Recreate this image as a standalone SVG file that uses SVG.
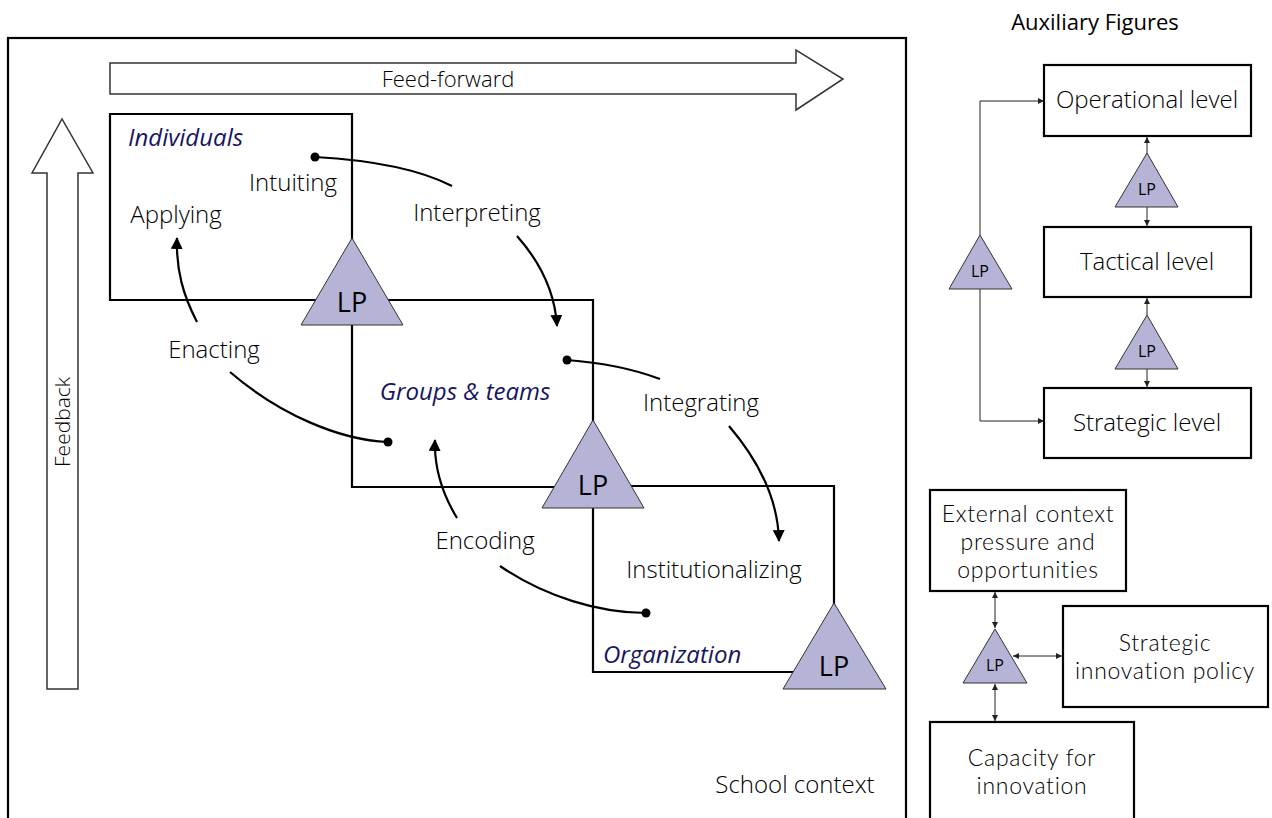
<svg xmlns="http://www.w3.org/2000/svg" width="1272" height="818" viewBox="0 0 1272 818">
<defs>
<marker id="ah" markerUnits="userSpaceOnUse" markerWidth="12" markerHeight="12" viewBox="0 0 12 12" refX="11" refY="6" orient="auto"><path d="M0,0 L12,6 L0,12 z" fill="#000"/></marker>
<marker id="sa" markerUnits="userSpaceOnUse" markerWidth="6" markerHeight="6" viewBox="0 0 6 6" refX="6" refY="3" orient="auto-start-reverse"><path d="M0,0 L6,3 L0,6 z" fill="#222"/></marker>
<style>
text{font-family:"Open Sans","Noto Sans","Liberation Sans",sans-serif;fill:#000;font-weight:350;}
.lbl{font-size:24px;text-anchor:middle;}
.ml{font-family:Lato,"Open Sans",sans-serif;font-size:23px;font-weight:300;text-anchor:middle;letter-spacing:0.7px;}
.it{font-size:24px;font-style:italic;fill:#161660;font-weight:400;}
.box{fill:#fff;stroke:#000;stroke-width:2.2;}
.big{fill:none;stroke:#000;stroke-width:2.2;}
.tri{fill:#b6b4d6;stroke:#333;stroke-width:1;}
.lp{font-size:27px;text-anchor:middle;font-weight:400;}
.lps{font-size:16px;text-anchor:middle;font-weight:400;}
.flow{fill:none;stroke:#000;stroke-width:2.2;}
.thin{fill:none;stroke:#222;stroke-width:1;}
.hollow{fill:#fff;stroke:#333;stroke-width:1.5;}
</style>
</defs>
<g id="school-context">
<rect x="8" y="38" width="898" height="800" class="big"/>
<text x="795" y="793" class="lbl">School context</text>
</g>
<g id="feed-forward">
<path d="M110,63 L796,63 L796,50 L843,79 L796,110 L796,94 L110,94 Z" class="hollow"/>
<text x="448" y="87" class="lbl" style="font-size:22px">Feed-forward</text>
</g>
<g id="feedback">
<path d="M47,689 L47,173 L32,173 L62,119 L93,173 L78,173 L78,689 Z" class="hollow"/>
<text transform="translate(70,422) rotate(-90)" class="lbl" style="font-size:21px">Feedback</text>
</g>
<g id="levels">
<path d="M110,114 L352,114 L352,300 L593,300 L593,486 L834,486 L834,672 L593,672 L593,487 L352,487 L352,300 L110,300 Z" class="big"/>
</g>
<g id="individuals">
<text x="128" y="146" class="it">Individuals</text>
<text x="293" y="191" class="lbl">Intuiting</text>
<text x="176" y="223" class="lbl">Applying</text>
</g>
<g id="groups-teams">
<text x="465" y="400" class="it" text-anchor="middle">Groups &amp; teams</text>
</g>
<g id="organization">
<text x="603" y="663" class="it">Organization</text>
<text x="714" y="578" class="lbl">Institutionalizing</text>
</g>
<g id="lp1"><path d="M352,238 L403,325 L301,325 Z" class="tri"/><text x="352" y="312" class="lp">LP</text></g>
<g id="lp2"><path d="M593,420 L644,508 L542,508 Z" class="tri"/><text x="593" y="495" class="lp">LP</text></g>
<g id="lp3"><path d="M834,603 L886,689 L783,689 Z" class="tri"/><text x="834" y="676" class="lp">LP</text></g>
<g id="connectors">
<path d="M315,157 Q405,162 452,186" class="flow"/>
<circle cx="315" cy="157" r="4.5"/>
<path d="M517,236 C540,262 555,292 557,326" class="flow" marker-end="url(#ah)"/>
<path d="M567,360 Q620,364 660,379" class="flow"/>
<circle cx="567" cy="360" r="4.5"/>
<path d="M729,426 C758,460 778,500 779,541" class="flow" marker-end="url(#ah)"/>
<path d="M457,518 C443,495 434,470 435,440" class="flow" marker-end="url(#ah)"/>
<path d="M500,566 C545,597 600,613 646,613" class="flow"/>
<circle cx="646" cy="613" r="4.5"/>
<path d="M230,372 C280,415 340,440 388,442" class="flow"/>
<circle cx="388" cy="442" r="4.5"/>
<path d="M197,322 C183,295 176,270 177,238" class="flow" marker-end="url(#ah)"/>
<path d="M980,235 L980,101 L1044,101" class="thin" marker-end="url(#sa)"/>
<path d="M980,289 L980,421 L1044,421" class="thin" marker-end="url(#sa)"/>
<path d="M1147,153 L1147,137" class="thin" marker-end="url(#sa)"/>
<path d="M1147,207 L1147,226" class="thin" marker-end="url(#sa)"/>
<path d="M1147,315 L1147,298" class="thin" marker-end="url(#sa)"/>
<path d="M1147,369 L1147,387" class="thin" marker-end="url(#sa)"/>
<path d="M995,592 L995,628" class="thin" marker-start="url(#sa)" marker-end="url(#sa)"/>
<path d="M1013,656 L1062,656" class="thin" marker-start="url(#sa)" marker-end="url(#sa)"/>
<path d="M995,684 L995,721" class="thin" marker-start="url(#sa)" marker-end="url(#sa)"/>
</g>
<g id="labels">
<text x="477" y="221" class="lbl">Interpreting</text>
<text x="214" y="358" class="lbl">Enacting</text>
<text x="701" y="411" class="lbl">Integrating</text>
<text x="485" y="549" class="lbl">Encoding</text>
</g>
<g id="aux-title"><text x="1095" y="30" class="lbl" style="font-size:22px;font-weight:400">Auxiliary Figures</text></g>
<g id="operational"><rect x="1044" y="65" width="207" height="71" class="box"/><text x="1147" y="108" class="lbl">Operational level</text></g>
<g id="tactical"><rect x="1044" y="227" width="207" height="70" class="box"/><text x="1147" y="270" class="lbl">Tactical level</text></g>
<g id="strategic"><rect x="1044" y="388" width="207" height="70" class="box"/><text x="1147" y="431" class="lbl">Strategic level</text></g>
<g id="lp-a"><path d="M1147,153 L1178,207 L1115,207 Z" class="tri"/><text x="1147" y="195" class="lps">LP</text></g>
<g id="lp-b"><path d="M1147,315 L1178,369 L1115,369 Z" class="tri"/><text x="1147" y="357" class="lps">LP</text></g>
<g id="lp-c"><path d="M980,235 L1012,289 L949,289 Z" class="tri"/><text x="980" y="277" class="lps">LP</text></g>
<g id="external"><rect x="930" y="490" width="196" height="101" class="box"/>
<text x="1028" y="522" class="ml">External context</text><text x="1028" y="550" class="ml">pressure and</text><text x="1028" y="578" class="ml">opportunities</text></g>
<g id="policy"><rect x="1063" y="606" width="205" height="101" class="box"/>
<text x="1165" y="651" class="ml">Strategic</text><text x="1165" y="679" class="ml">innovation policy</text></g>
<g id="capacity"><rect x="930" y="722" width="204" height="110" class="box"/>
<text x="1032" y="766" class="ml">Capacity for</text><text x="1032" y="794" class="ml">innovation</text></g>
<g id="lp-d"><path d="M995,629 L1027,683 L963,683 Z" class="tri"/><text x="995" y="671" class="lps">LP</text></g>
</svg>
